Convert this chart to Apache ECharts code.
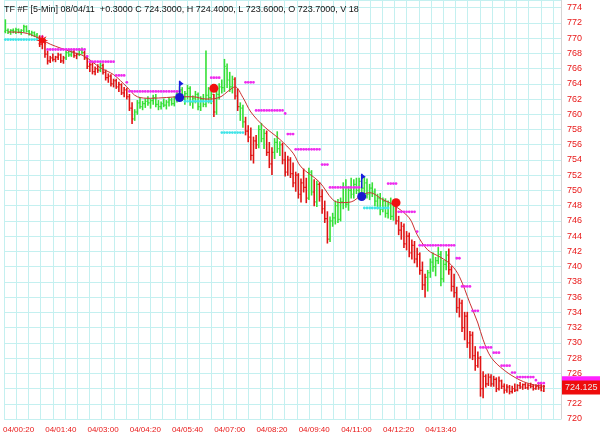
<!DOCTYPE html>
<html><head><meta charset="utf-8">
<script src="https://cdn.jsdelivr.net/npm/echarts@6/dist/echarts.min.js"></script>
<style>html,body{margin:0;padding:0;background:#fff}#c{width:600px;height:438px}</style>
</head><body><div id="c"></div>
<script>
// ---- data (5-min bars, index 0 = 03/23:55) ----
const opens = [
770.9,771.0,770.8,771.0,770.9,771.1,770.8,771.0,771.5,770.9,
770.6,770.7,770.4,770.0,769.2,769.6,767.9,767.0,767.4,767.2,
767.5,767.8,767.0,767.4,768.1,767.8,768.2,767.7,767.9,768.4,
768.1,767.4,766.3,766.5,765.6,766.0,765.8,766.4,765.5,764.8,
765.0,764.0,764.4,763.6,763.9,762.8,763.2,762.3,760.8,759.4,
760.3,761.5,761.0,761.4,761.7,761.5,761.8,762.2,761.3,761.0,
761.4,761.2,761.6,761.9,761.4,762.1,762.6,763.2,762.0,762.7,
763.4,761.6,762.1,762.6,761.0,762.0,761.3,762.5,762.2,762.6,
760.3,762.6,763.6,763.5,766.0,764.5,763.6,764.6,762.4,761.0,
760.8,759.0,757.8,757.0,754.6,756.5,756.0,758.0,756.8,757.5,
755.0,753.5,755.0,756.3,755.5,756.0,754.0,752.4,754.0,752.2,
751.0,752.0,749.5,751.0,750.4,749.0,752.4,749.8,748.5,750.8,
749.2,747.6,746.3,743.6,746.0,746.4,748.0,746.2,748.5,750.4,
748.2,750.0,749.5,750.8,750.0,751.2,750.3,751.0,749.5,750.3,
749.8,748.6,749.0,747.5,748.6,747.0,748.2,746.6,748.0,746.0,
744.8,745.3,743.0,744.0,741.8,742.8,741.0,741.6,739.5,737.6,
738.6,739.2,740.6,740.0,740.8,741.6,738.4,740.3,741.5,739.6,
737.4,736.6,734.6,735.2,732.0,733.5,730.0,731.0,728.3,727.0,
728.0,724.0,725.6,724.6,725.5,724.6,725.2,724.0,725.0,724.3,
723.8,724.2,723.6,724.0,723.8,724.4,724.2,724.5,724.1,724.4,
724.3,724.0,724.3,724.1,723.7];
const highs = [
772.4,771.2,771.1,771.2,771.3,771.2,771.1,771.7,771.6,771.0,
770.9,770.8,770.6,770.3,770.0,769.8,768.3,767.6,767.9,767.6,
768.0,767.9,767.6,768.3,768.5,768.4,768.4,768.0,768.6,768.7,
768.3,767.6,766.8,766.9,766.2,766.5,766.7,766.6,765.8,765.3,
765.2,764.6,764.6,764.2,764.0,763.5,763.4,762.6,761.5,760.6,
761.8,762.2,761.7,762.0,762.3,762.0,762.5,762.6,761.8,761.6,
762.0,761.8,762.2,762.1,762.3,762.9,763.6,763.5,763.0,763.8,
763.6,762.4,763.0,762.8,762.3,762.6,768.3,763.5,763.0,762.6,
763.0,764.0,764.5,767.2,766.6,765.5,765.0,764.8,763.3,761.5,
761.2,759.6,758.5,758.2,757.0,757.2,758.5,758.8,758.0,757.8,
756.3,755.6,756.8,757.7,756.4,756.2,755.0,754.5,754.3,753.6,
752.4,752.2,751.5,752.8,751.6,752.9,752.6,751.4,751.2,751.0,
750.1,748.6,747.2,746.5,747.0,748.6,748.8,749.0,751.0,751.4,
750.5,751.6,751.4,751.6,751.6,752.0,751.7,751.5,750.8,751.0,
750.2,749.5,749.6,749.0,748.9,748.6,749.0,748.4,748.3,746.6,
745.8,745.6,744.6,744.4,743.5,743.3,742.4,741.8,740.6,739.0,
739.5,741.0,741.8,741.2,742.5,742.0,740.8,742.0,742.3,740.0,
739.0,737.3,735.8,735.6,734.0,734.0,731.5,731.4,729.5,728.8,
728.2,726.2,725.8,725.9,725.8,725.6,725.4,725.5,725.1,724.6,
724.5,724.4,724.3,724.6,724.5,724.8,724.6,724.7,724.6,724.7,
724.5,724.5,724.5,724.8,724.4];
const lows = [
770.7,770.6,770.5,770.7,770.6,770.7,770.5,770.8,770.8,770.4,
770.3,770.2,769.8,768.9,768.6,767.5,766.6,766.8,767.0,766.9,
767.2,766.8,766.7,767.2,767.6,767.6,767.5,767.3,767.7,767.9,
767.2,766.0,765.6,765.3,765.2,765.5,765.6,765.3,764.5,764.2,
763.7,763.6,763.4,763.0,762.6,762.3,762.0,760.5,758.8,759.2,
760.0,760.8,760.6,760.9,761.2,760.8,761.3,761.0,760.6,760.7,
761.0,760.7,761.1,761.2,761.1,761.6,762.0,761.8,761.3,762.0,
761.2,760.8,761.5,760.6,760.5,761.0,761.0,761.5,761.4,759.7,
760.0,762.0,762.8,763.0,763.5,763.0,762.8,762.0,760.5,759.2,
758.3,757.3,756.4,754.0,753.6,755.5,755.6,756.4,755.5,754.6,
753.0,752.1,754.2,755.0,754.6,753.5,751.9,752.0,751.7,750.5,
749.9,749.0,748.5,749.8,748.4,748.8,749.4,748.0,747.9,748.6,
747.0,745.8,743.1,743.3,745.3,745.6,745.8,746.0,747.6,747.8,
747.4,749.0,749.0,749.6,749.4,749.8,749.6,749.0,748.8,749.2,
748.0,747.6,746.8,747.2,746.5,746.4,746.2,746.1,745.6,744.2,
743.6,742.5,742.2,741.3,741.0,740.5,740.0,739.0,737.0,736.0,
736.8,738.6,739.4,738.8,740.4,737.5,738.0,739.6,739.0,736.8,
736.0,734.0,733.4,731.5,730.4,729.4,728.0,727.8,726.4,726.8,
723.0,722.8,724.2,724.4,724.3,724.3,723.6,723.8,724.0,723.4,
723.5,723.3,723.4,723.6,723.7,724.0,723.9,724.0,723.9,724.1,
723.8,723.9,723.9,723.7,723.6];
const closes = [
771.0,770.8,771.0,770.9,771.1,770.8,771.0,771.5,770.9,770.6,
770.7,770.4,770.0,769.2,769.6,767.9,767.0,767.4,767.2,767.5,
767.8,767.0,767.4,768.1,767.8,768.2,767.7,767.9,768.4,768.1,
767.4,766.3,766.5,765.6,766.0,765.8,766.4,765.5,764.8,765.0,
764.0,764.4,763.6,763.9,762.8,763.2,762.3,760.8,759.4,760.3,
761.5,761.0,761.4,761.7,761.5,761.8,762.2,761.3,761.0,761.4,
761.2,761.6,761.9,761.4,762.1,762.6,763.2,762.0,762.7,763.4,
761.6,762.1,762.6,761.0,762.0,761.3,762.5,762.2,762.6,760.3,
762.6,763.6,763.5,766.3,764.5,763.6,764.6,762.4,761.0,760.8,
759.0,757.8,757.0,754.6,756.5,756.0,758.0,756.8,757.5,755.0,
753.5,755.0,756.3,755.5,756.0,754.0,752.4,754.0,752.2,751.0,
752.0,749.5,751.0,750.4,749.0,752.4,749.8,748.5,750.8,749.2,
747.6,746.3,743.6,746.0,746.4,748.0,746.2,748.5,750.4,748.2,
750.0,749.5,750.8,750.0,751.2,750.3,751.0,749.5,750.3,749.8,
748.6,749.0,747.5,748.6,747.0,748.2,746.6,748.0,746.0,744.8,
745.3,743.0,744.0,741.8,742.8,741.0,741.6,739.5,737.6,738.6,
739.2,740.6,740.0,740.8,741.6,738.4,740.3,741.5,739.6,737.4,
736.6,734.6,735.2,732.0,733.5,730.0,731.0,728.3,727.0,728.0,
724.0,725.6,724.6,725.5,724.6,725.2,724.0,725.0,724.3,723.8,
724.2,723.6,724.0,723.8,724.4,724.2,724.5,724.1,724.4,724.3,
724.0,724.3,724.1,724.2,724.3];
// bar index ranges painted green (up-trend); all other bars red
const greenRanges = [[0,12],[23,25],[28,29],[36,36],[49,78],[80,86],[89,90],[96,98],[102,104],[115,116],[118,118],[123,147],[160,167]];
// moving average, read at sample bars: [barIndex, value]
const maLine = [[1,770.8],[7,770.7],[12,770.1],[17,769.2],[25,768.2],[30,767.6],[36,766.1],[41,765.2],[46,763.6],[50,762.3],[55,762.1],[61,762.2],[66,762.3],[71,762.3],[76,762.0],[81,762.2],[85,763.2],[87,763.6],[90,762.2],[93,760.3],[98,758.4],[104,756.7],[109,754.9],[112,753.1],[119,751.1],[124,748.8],[127,748.4],[131,748.5],[135,749.4],[138,749.7],[143,748.8],[147,748.1],[153,746.4],[156,744.2],[160,742.2],[165,741.2],[169,740.2],[172,738.7],[176,735.2],[179,732.6],[181,730.4],[184,728.1],[189,726.4],[195,725.1],[200,724.5],[204,724.3]];
// dotted stop levels: [firstBar, lastBar, price]
const magentaLevels = [[14,14,770.2],[16,30,768.5],[31,31,767.6],[32,41,766.9],[42,45,765.1],[46,46,764.2],[47,66,763.0],[78,81,764.8],[91,94,764.2],[95,105,760.5],[106,106,760.1],[107,109,757.4],[110,119,755.4],[120,122,753.4],[123,134,750.4],[145,148,750.9],[149,155,747.2],[156,156,744.6],[157,170,742.8],[171,172,741.1],[173,176,737.4],[177,179,734.2],[180,184,729.4],[185,187,728.7],[188,191,727.0],[192,193,726.1],[194,200,725.5],[201,201,725.1],[202,204,724.7]];
const cyanLevels = [[0,12,769.8],[68,78,761.7],[82,90,757.6],[136,145,747.7]];
// signal markers
const redDots = [[79,763.4],[148,748.4]];
const blueDots = [[66,762.2],[135,749.2]];
const redStars = [[14,769.7]];
const blueFlags = [[66,762.6,764.4],[135,750.3,752.2]];
// right-edge value boxes: [price, colour, text]
const priceBoxes = [[724.7,'#ff22ff',''],[724.125,'#ee0c0c','724.125']];
// x tick labels
const xTickIdx = [5,21,37,53,69,85,101,117,133,149,165];
const xTickLabels = ['04/00:20','04/01:40','04/03:00','04/04:20','04/05:40','04/07:00','04/08:20','04/09:40','04/11:00','04/12:20','04/13:40'];
const NCATS = 211;
const title = 'TF #F [5-Min] 08/04/11  +0.3000 C 724.3000, H 724.4000, L 723.6000, O 723.7000, V 18';

// ---- build ----
const cats = [];
for (let i = 0; i < NCATS; i++) {
  let m = 20 + (i - 5) * 5; const day = m < 0 ? '03' : '04'; m = (m + 1440) % 1440;
  cats.push(day + '/' + String(Math.floor(m / 60)).padStart(2, '0') + ':' + String(m % 60).padStart(2, '0'));
}
const isGreen = i => greenRanges.some(r => i >= r[0] && i <= r[1]) ? 1 : 0;
const barData = opens.map((o, i) => [i, o, highs[i], lows[i], closes[i], isGreen(i)]);
const GREEN = '#36e036', RED = '#e01414', GRID = '#c4f0f0';
const FONT = 'Liberation Sans';

const chart = echarts.init(document.getElementById('c'), null, {renderer: 'canvas'});
function dotsRender(color) {
  return function (params, api) {
    const a = api.value(0), b = api.value(1), v = api.value(2);
    const ch = [];
    for (let k = a; k <= b; k++) {
      const p = api.coord([k, v]);
      ch.push({type: 'circle', shape: {cx: p[0], cy: p[1], r: 1.4}, style: {fill: color}});
    }
    return {type: 'group', children: ch};
  };
}
const option = {
  animation: false,
  backgroundColor: '#fff',
  textStyle: {fontFamily: FONT},
  grid: [
    {left: 0, right: 39, top: 0, bottom: 19, containLabel: false},
    {left: 4, right: 47, top: 0, bottom: 19, containLabel: false}
  ],
  xAxis: [
    {type: 'category', data: cats, gridIndex: 0, boundaryGap: true,
     axisLine: {show: false}, axisTick: {show: false}, splitLine: {show: false},
     axisLabel: {color: '#e81818', fontSize: 8, fontFamily: FONT, margin: 7,
       interval: (idx) => xTickIdx.includes(idx),
       formatter: (v, idx) => { const k = xTickIdx.indexOf(idx); return k >= 0 ? xTickLabels[k] : ''; }}},
    {type: 'value', gridIndex: 1, min: 0, max: 45, interval: 1,
     axisLine: {show: false}, axisTick: {show: false}, axisLabel: {show: false},
     splitLine: {show: true, lineStyle: {color: GRID, width: 1}}}
  ],
  yAxis: [
    {type: 'value', gridIndex: 0, position: 'right', min: 720, max: 775, interval: 2,
     axisLine: {show: true, lineStyle: {color: '#d4d4d4'}}, axisTick: {show: false},
     splitLine: {show: true, lineStyle: {color: GRID, width: 1}},
     axisLabel: {color: '#e81818', fontSize: 9, fontFamily: FONT, margin: 6,
       formatter: v => (v % 2 === 0 && v < 775) ? String(v) : ''}},
    {type: 'value', gridIndex: 1, min: 0, max: 1, show: false, splitLine: {show: false}}
  ],
  series: [
    {type: 'custom', name: 'bars', xAxisIndex: 0, yAxisIndex: 0, data: barData,
     encode: {x: 0, y: [1, 2, 3, 4]}, z: 2,
     renderItem: (params, api) => {
       const i = api.value(0);
       const o = api.coord([i, api.value(1)]), h = api.coord([i, api.value(2)]);
       const l = api.coord([i, api.value(3)]), c = api.coord([i, api.value(4)]);
       const col = api.value(5) ? GREEN : RED;
       const x = o[0], tw = api.size([1, 0])[0] * 0.45;
       return {type: 'group', children: [
         {type: 'line', shape: {x1: x, y1: h[1] - 0.5, x2: x, y2: l[1] + 0.5}, style: {stroke: col, lineWidth: 1.6}},
         {type: 'line', shape: {x1: x - tw, y1: o[1], x2: x, y2: o[1]}, style: {stroke: col, lineWidth: 1.2}},
         {type: 'line', shape: {x1: x, y1: c[1], x2: x + tw, y2: c[1]}, style: {stroke: col, lineWidth: 1.2}}
       ]};
     }},
    {type: 'line', name: 'ma', data: maLine, smooth: 0.35, showSymbol: false, z: 3,
     lineStyle: {color: '#cc3030', width: 1}},
    {type: 'custom', name: 'magenta', data: magentaLevels, z: 4, encode: {x: [0, 1], y: 2},
     renderItem: dotsRender('#ee2cee')},
    {type: 'custom', name: 'cyan', data: cyanLevels, z: 4, encode: {x: [0, 1], y: 2},
     renderItem: dotsRender('#3ee4e8')},
    {type: 'custom', name: 'flags', data: blueFlags, z: 5, encode: {x: 0, y: [1, 2]},
     renderItem: (params, api) => {
       const b = api.coord([api.value(0), api.value(1)]), t = api.coord([api.value(0), api.value(2)]);
       return {type: 'group', children: [
         {type: 'line', shape: {x1: b[0], y1: b[1], x2: t[0], y2: t[1]}, style: {stroke: '#1c1ce0', lineWidth: 1.4}},
         {type: 'polygon', shape: {points: [[t[0], t[1]], [t[0] + 4, t[1] + 3], [t[0], t[1] + 5.5]]}, style: {fill: '#1c1ce0'}}
       ]};
     }},
    {type: 'scatter', name: 'buy', data: blueDots, symbolSize: 9, z: 6, itemStyle: {color: '#1a1ad0', opacity: 1}},
    {type: 'scatter', name: 'sell', data: redDots, symbolSize: 9, z: 6, itemStyle: {color: '#f01010', opacity: 1}},
    {type: 'scatter', name: 'star', data: redStars, symbolSize: 12, z: 6,
     symbol: 'path://M50,0 L58,30 L85,15 L70,42 L100,50 L70,58 L85,85 L58,70 L50,100 L42,70 L15,85 L30,58 L0,50 L30,42 L15,15 L42,30 Z',
     itemStyle: {color: '#f01010', opacity: 1}},
    {type: 'custom', name: 'boxes', data: priceBoxes, z: 10, clip: false, encode: {y: 0},
     renderItem: (params, api) => {
       const y = api.coord([0, api.value(0)])[1];
       const x0 = params.coordSys.x + params.coordSys.width + 1;
       const item = priceBoxes[params.dataIndex];
       return {type: 'group', children: [
         {type: 'rect', shape: {x: x0, y: y - 7, width: 600 - x0, height: 14}, style: {fill: item[1]}},
         {type: 'text', style: {x: x0 + 3, y: y, text: item[2], fill: '#e8e8e8', font: '9px "' + FONT + '"', textVerticalAlign: 'middle'}}
       ]};
     }}
  ],
  graphic: [
    {type: 'text', left: 4, top: 5, z: 20, style: {text: title, fill: '#111', font: '9px "' + FONT + '"'}}
  ]
};
chart.setOption(option);
</script>
</body></html>
